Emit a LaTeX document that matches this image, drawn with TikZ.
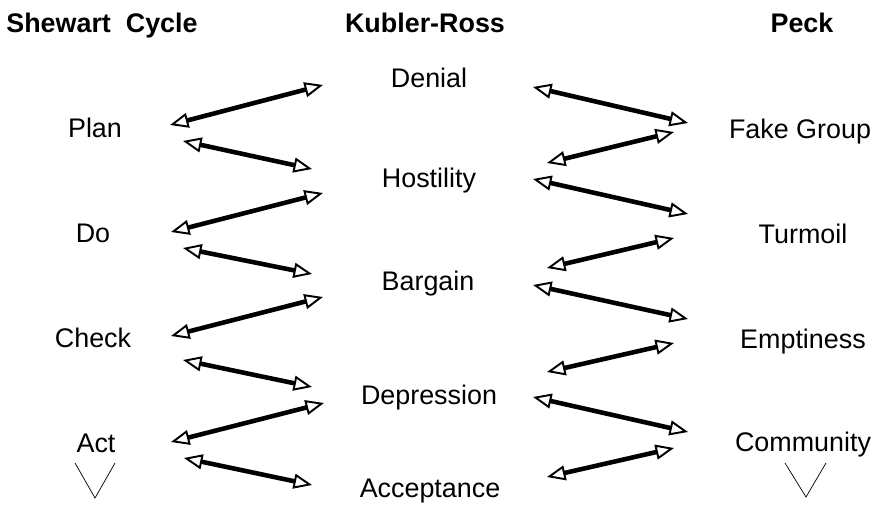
\documentclass[tikz,border=0pt]{standalone}
\usepackage{fontspec}
\setmainfont{Liberation Sans}
\usepackage{tikz}
\usetikzlibrary{arrows.meta,calc,positioning}

\begin{document}
\begin{tikzpicture}
	\tikzstyle{every node} = [font = \fontsize{15.3}{18}\selectfont, anchor = base, inner sep = 0pt]
	\tikzstyle{head} = [font = \fontsize{15.3}{18}\selectfont\bfseries]
	\tikzstyle{link} = [{Triangle[open, length = 10.5pt, width = 8.5pt, line width = 1.1pt]}-{Triangle[open, length = 10.5pt, width = 8.5pt, line width = 1.1pt]}, line width = 2.6pt]
	\useasboundingbox (0,0) rectangle (17.54,10.10);

\node[head] (shewart) at (2.04, 9.44) {Shewart\ \ Cycle};
\node[head] (kubler) at (8.50, 9.44) {Kubler-Ross};
\node[head] (peck) at (16.04, 9.44) {Peck};

\node (plan) at (1.90, 7.34) {Plan};
\node (do) at (1.86, 5.24) {Do};
\node (check) at (1.86, 3.14) {Check};
\node (act) at (1.92, 1.04) {Act};

\node (denial) at (8.58, 8.34) {Denial};
\node (hostility) at (8.58, 6.34) {Hostility};
\node (bargain) at (8.56, 4.28) {Bargain};
\node (depression) at (8.58, 2.00) {Depression};
\node (acceptance) at (8.60, 0.14) {Acceptance};

\node (fake) at (16.00, 7.32) {Fake Group};
\node (turmoil) at (16.06, 5.22) {Turmoil};
\node (emptiness) at (16.06, 3.12) {Emptiness};
\node (community) at (16.06, 1.06) {Community};

	% Shewart <-> Kubler-Ross
	\coordinate (l1a) at (3.40, 7.60); \coordinate (l1b) at (6.46, 8.40);
	\coordinate (l2a) at (3.66, 7.28); \coordinate (l2b) at (6.24, 6.72);
	\coordinate (l3a) at (3.42, 5.46); \coordinate (l3b) at (6.46, 6.24);
	\coordinate (l4a) at (3.66, 5.14); \coordinate (l4b) at (6.24, 4.62);
	\coordinate (l5a) at (3.42, 3.38); \coordinate (l5b) at (6.46, 4.16);
	\coordinate (l6a) at (3.66, 2.90); \coordinate (l6b) at (6.24, 2.36);
	\coordinate (l7a) at (3.42, 1.26); \coordinate (l7b) at (6.48, 2.04);
	\coordinate (l8a) at (3.68, 0.94); \coordinate (l8b) at (6.24, 0.40);

	\path[draw, link] (l1a) -- (l1b);
	\path[draw, link] (l2a) -- (l2b);
	\path[draw, link] (l3a) -- (l3b);
	\path[draw, link] (l4a) -- (l4b);
	\path[draw, link] (l5a) -- (l5b);
	\path[draw, link] (l6a) -- (l6b);
	\path[draw, link] (l7a) -- (l7b);
	\path[draw, link] (l8a) -- (l8b);

	% Kubler-Ross <-> Peck
	\coordinate (r1a) at (10.66, 8.36); \coordinate (r1b) at (13.76, 7.64);
	\coordinate (r2a) at (10.94, 6.84); \coordinate (r2b) at (13.48, 7.46);
	\coordinate (r3a) at (10.66, 6.52); \coordinate (r3b) at (13.76, 5.82);
	\coordinate (r4a) at (10.94, 4.74); \coordinate (r4b) at (13.48, 5.34);
	\coordinate (r5a) at (10.66, 4.40); \coordinate (r5b) at (13.76, 3.72);
	\coordinate (r6a) at (10.94, 2.66); \coordinate (r6b) at (13.48, 3.24);
	\coordinate (r7a) at (10.66, 2.16); \coordinate (r7b) at (13.76, 1.46);
	\coordinate (r8a) at (10.94, 0.56); \coordinate (r8b) at (13.48, 1.14);

	\path[draw, link] (r1a) -- (r1b);
	\path[draw, link] (r2a) -- (r2b);
	\path[draw, link] (r3a) -- (r3b);
	\path[draw, link] (r4a) -- (r4b);
	\path[draw, link] (r5a) -- (r5b);
	\path[draw, link] (r6a) -- (r6b);
	\path[draw, link] (r7a) -- (r7b);
	\path[draw, link] (r8a) -- (r8b);

	% open V marks under the columns
	\path[draw, line width = 0.4pt] (1.50, 0.84) -- (1.90, 0.14) -- (2.30, 0.84);
	\path[draw, line width = 0.4pt] (15.70, 0.84) -- (16.12, 0.16) -- (16.52, 0.84);
\end{tikzpicture}
\end{document}
